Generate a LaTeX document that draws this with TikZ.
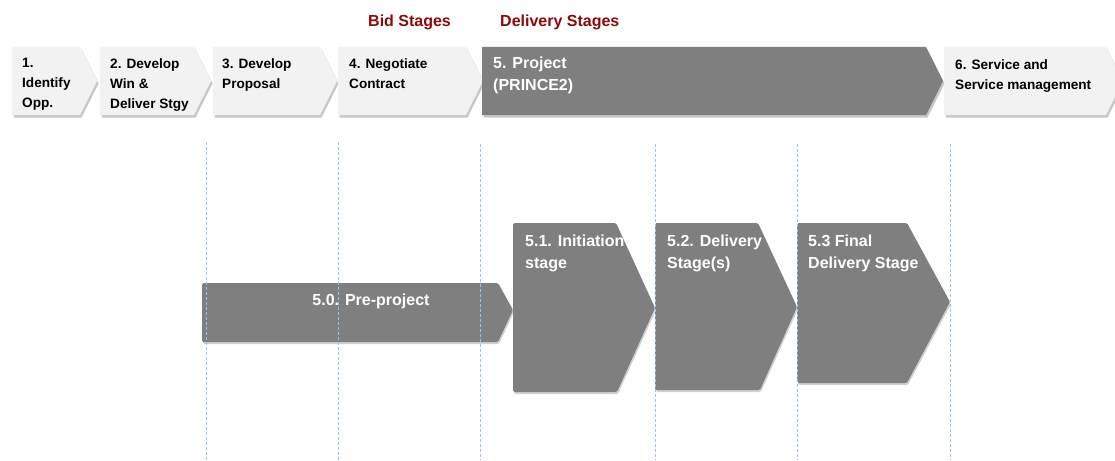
\documentclass[tikz,border=0pt]{standalone}
\usepackage{fontspec}
\setmainfont{Liberation Sans}
\usetikzlibrary{shadows}
\definecolor{lightg}{HTML}{F2F2F2}
\definecolor{darkg}{HTML}{7F7F7F}
\definecolor{bidred}{HTML}{8B0A0A}
\definecolor{guide}{HTML}{9DC3E6}
\tikzset{
  lightshape/.style={fill=lightg, drop shadow={shadow xshift=1.5pt, shadow yshift=-2.5pt, fill=black, opacity=0.22}},
  darkshape/.style={fill=darkg, drop shadow={shadow xshift=1.5pt, shadow yshift=-2.5pt, fill=black, opacity=0.22}},
  lowshape/.style={fill=darkg, rounded corners=1.5pt, drop shadow={shadow xshift=1pt, shadow yshift=-2pt, fill=black, opacity=0.18}},
  toptext/.style={anchor=north west, inner sep=0pt, align=left, font=\fontsize{13.6}{20}\selectfont\bfseries, text=black},
  projtext/.style={anchor=north west, inner sep=0pt, align=left, font=\fontsize{16}{22}\selectfont\bfseries, text=white},
  headtext/.style={anchor=north west, inner sep=0pt, font=\fontsize{16}{20}\selectfont\bfseries, text=bidred},
  guideline/.style={draw=guide, line width=0.8pt, dash pattern=on 3pt off 2pt}
}
\begin{document}
\begin{tikzpicture}[x=1pt,y=-1pt]
\useasboundingbox (0,0) rectangle (1115,460);
% header labels
\node[headtext] (bid) at (368,15) {Bid Stages};
\node[headtext] (del) at (500,15) {Delivery Stages};
% top chevrons
\path[lightshape] (12,47) -- (80,47) -- (97,81) -- (80,115) -- (12,115) -- cycle;
\path[lightshape] (100,47) -- (194,47) -- (211,81) -- (194,115) -- (100,115) -- cycle;
\path[lightshape] (213,47) -- (320,47) -- (337,81) -- (320,115) -- (213,115) -- cycle;
\path[lightshape] (338,47) -- (466,47) -- (483,81) -- (466,115) -- (338,115) -- cycle;
\path[darkshape] (482,47) -- (926,47) -- (943,81) -- (926,115) -- (482,115) -- cycle;
\path[lightshape] (944,47) -- (1106,47) -- (1123,81) -- (1106,115) -- (944,115) -- cycle;
\node[toptext] (t1) at (22,58) {1.\\Identify\\Opp.};
\node[toptext] (t2) at (110,58) {2. Develop\\Win \&\\Deliver Stgy};
\node[toptext] (t3) at (222,58) {3. Develop\\Proposal};
\node[toptext] (t4) at (349,58) {4. Negotiate\\Contract};
\node[projtext] (t5) at (493,57) {5. Project\\(PRINCE2)};
\node[toptext] (t6) at (955,59) {6. Service and\\Service management};
% lower chevrons
\path[lowshape] (202,283) -- (498,283) -- (513,310) -- (498,342) -- (202,342) -- cycle;
\path[lowshape] (513,223) -- (616,223) -- (655,308) -- (617,392) -- (513,392) -- cycle;
\path[lowshape] (655,223) -- (758,223) -- (797,307) -- (760,390) -- (655,390) -- cycle;
\path[lowshape] (797,223) -- (907,223) -- (950,302) -- (907,383) -- (797,383) -- cycle;
\node[projtext, anchor=north] (s0) at (371,294) {5.0. Pre-project};
\node[projtext] (s1) at (525,235) {5.1. Initiation\\stage};
\node[projtext] (s2) at (667,235) {5.2. Delivery\\Stage(s)};
\node[projtext] (s3) at (808,235) {5.3 Final\\Delivery Stage};
% guide lines
\foreach \gx/\gy in {206/142, 338/142, 480/144, 655/144, 797/144, 950/144}
  \draw[guideline] (\gx,\gy) -- (\gx,460);
\end{tikzpicture}
\end{document}
